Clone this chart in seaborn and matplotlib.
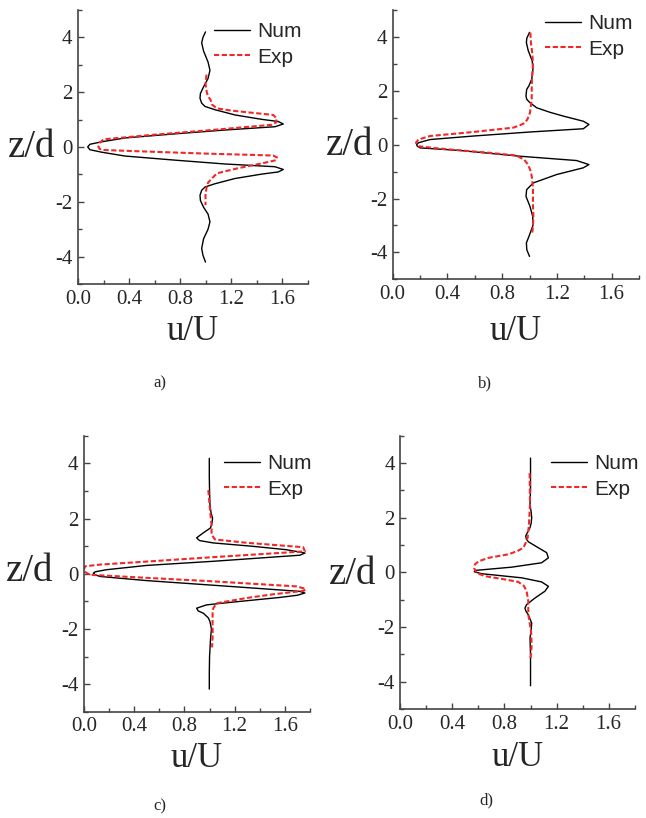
import matplotlib
matplotlib.use('Agg')
import matplotlib.pyplot as plt
import seaborn as sns
from matplotlib.ticker import MultipleLocator

# ---- data: velocity profiles u/U vs z/d ----
a_num_z = [4.2, 4.0, 3.8, 3.5, 3.1, 2.8, 2.5, 2.2, 1.95, 1.78, 1.6, 1.48, 1.36, 1.17, 1.01, 0.93, 0.84, 0.74,
           0.62, 0.48, 0.33, 0.19, 0.10, 0.0, -0.10, -0.19, -0.33, -0.48, -0.62, -0.72, -0.82, -0.91, -0.99,
           -1.15, -1.34, -1.46, -1.58, -1.76, -1.95, -2.2, -2.45, -2.73, -3.0, -3.35, -3.7, -3.95, -4.2]
a_num_u = [1.00, 0.98, 0.97, 0.985, 1.02, 1.035, 1.02, 0.985, 0.96, 0.957, 0.97, 0.996, 1.075, 1.231, 1.44, 1.571,
           1.61, 1.545, 1.153, 0.761, 0.369, 0.186, 0.094, 0.076, 0.094, 0.186, 0.369, 0.761, 1.153, 1.545, 1.61,
           1.571, 1.44, 1.231, 1.075, 0.996, 0.97, 0.957, 0.96, 0.985, 1.02, 1.035, 1.02, 0.985, 0.97, 0.98, 1.00]
a_exp_z = [2.64, 2.3, 2.0, 1.85, 1.72, 1.55, 1.41, 1.33, 1.17, 1.05, 0.9, 0.81, 0.6, 0.45, 0.28, 0.15, 0.0,
           -0.07, -0.11, -0.16, -0.24, -0.31, -0.38, -0.48, -0.6, -0.78, -0.96, -1.15, -1.3, -1.45, -1.7, -2.12]
a_exp_u = [1.008, 1.0, 1.01, 1.02, 1.04, 1.05, 1.09, 1.2, 1.53, 1.558, 1.555, 1.52, 1.0, 0.6, 0.2, 0.17, 0.16,
           0.17, 0.2, 0.5, 1.0, 1.53, 1.56, 1.555, 1.44, 1.25, 1.09, 1.05, 1.02, 1.01, 1.0, 1.0]

b_num_z = [4.17, 3.95, 3.79, 3.5, 3.1, 2.8, 2.43, 2.18, 2.05, 1.8, 1.68, 1.56, 1.37, 1.2, 1.06, 0.87, 0.75, 0.59,
           0.47, 0.32, 0.19, 0.07, 0.0, -0.06, -0.12, -0.22, -0.43, -0.59, -0.74, -0.86, -1.11, -1.42, -1.67,
           -1.92, -2.29, -2.66, -3.0, -3.35, -3.65, -3.9, -4.15]
b_num_u = [1.0, 0.98, 0.977, 0.99, 1.02, 1.025, 1.016, 0.995, 0.979, 0.974, 0.98, 1.003, 1.052, 1.15, 1.247, 1.393,
           1.434, 1.393, 1.003, 0.589, 0.273, 0.188, 0.175, 0.18, 0.2, 0.5, 0.93, 1.344, 1.434, 1.393, 1.198,
           1.028, 0.979, 0.974, 1.003, 1.023, 1.025, 1.0, 0.977, 0.98, 1.0]
b_exp_z = [4.16, 3.8, 3.4, 3.0, 2.6, 2.2, 1.68, 1.18, 0.95, 0.81, 0.72, 0.63, 0.47, 0.32, 0.19, 0.07, -0.06,
           -0.15, -0.3, -0.4, -0.55, -0.75, -1.0, -1.3, -1.67, -2.2, -2.66, -3.0, -3.28]
b_exp_u = [1.006, 1.01, 1.02, 1.025, 1.02, 1.016, 1.016, 1.003, 0.985, 0.967, 0.93, 0.88, 0.589, 0.273, 0.188,
           0.17, 0.19, 0.35, 0.7, 0.9, 0.96, 0.99, 1.01, 1.02, 1.025, 1.025, 1.028, 1.025, 1.02]

c_num_z = [4.18, 3.5, 3.0, 2.51, 2.2, 2.02, 1.85, 1.66, 1.48, 1.3, 1.2, 1.115, 0.99, 0.87, 0.75, 0.67, 0.45, 0.3,
           0.145, 0.07, 0.02, -0.04, -0.10, -0.25, -0.46, -0.64, -0.70, -0.78, -0.86, -1.04, -1.13, -1.25, -1.35,
           -1.43, -1.6, -1.73, -2.0, -2.34, -3.0, -3.6, -4.18]
c_num_u = [0.998, 0.998, 1.0, 1.003, 1.012, 1.024, 1.02, 1.008, 0.95, 0.897, 0.92, 1.03, 1.35, 1.61, 1.76, 1.72,
           1.03, 0.5, 0.18, 0.09, 0.074, 0.09, 0.127, 0.499, 1.162, 1.719, 1.759, 1.7, 1.56, 1.162, 0.976, 0.897,
           0.91, 0.95, 0.99, 1.003, 1.015, 1.008, 1.0, 0.998, 0.998]
c_exp_z = [3.03, 2.5, 2.0, 1.78, 1.42, 1.24, 1.12, 0.96, 0.81, 0.6, 0.44, 0.33, 0.27, 0.17, 0.08, -0.04, -0.15,
           -0.27, -0.46, -0.55, -0.62, -0.75, -0.88, -1.07, -1.25, -1.37, -1.8, -2.2, -2.67]
c_exp_u = [0.99, 1.0, 1.01, 1.016, 1.016, 1.043, 1.295, 1.746, 1.759, 1.03, 0.5, 0.127, 0.01, 0.0, 0.0, 0.05,
           0.5, 1.0, 1.693, 1.767, 1.75, 1.5, 1.295, 1.056, 1.03, 1.024, 1.024, 1.025, 1.02]

d_num_z = [4.18, 3.5, 3.0, 2.49, 2.2, 2.0, 1.8, 1.64, 1.45, 1.33, 1.22, 1.12, 0.9, 0.72, 0.53, 0.35, 0.19, 0.07,
           0.02, -0.05, -0.20, -0.35, -0.51, -0.69, -0.94, -1.18, -1.31, -1.42, -1.55, -1.86, -2.1, -2.41, -3.0,
           -3.6, -4.15]
d_num_u = [1.0, 1.0, 1.0, 0.996, 1.005, 1.009, 1.005, 0.996, 0.975, 0.963, 0.968, 0.983, 1.06, 1.124, 1.137, 1.085,
           0.855, 0.573, 0.568, 0.625, 0.932, 1.085, 1.137, 1.111, 1.034, 0.97, 0.957, 0.965, 0.983, 1.009, 1.005,
           0.996, 1.0, 1.0, 1.0]
d_exp_z = [3.63, 3.0, 2.49, 1.76, 1.27, 1.1, 0.9, 0.78, 0.66, 0.53, 0.4, 0.29, 0.14, -0.02, -0.14, -0.26, -0.35,
           -0.5, -0.69, -1.06, -1.55, -2.16, -2.65, -3.17]
d_exp_u = [0.993, 0.995, 0.996, 0.988, 0.978, 0.965, 0.945, 0.9, 0.83, 0.676, 0.6, 0.573, 0.568, 0.586, 0.65,
           0.804, 0.906, 0.95, 0.97, 0.983, 0.983, 1.004, 1.009, 1.0]

panel_names = ['a)', 'b)', 'c)', 'd)']

sns.set_style('ticks')
plt.rcParams['font.family'] = ['Liberation Serif', 'DejaVu Serif']

W, H = 646, 818
fig = plt.figure(figsize=(W / 100, H / 100), dpi=100)

# axes boxes in pixels: left, top, right, bottom
boxes = [(78, 10, 307.5, 284), (392.7, 10, 639, 279.3), (84, 435.7, 310, 711.7), (400.3, 435.7, 634.7, 709)]
leg_pos = [(204, 12), (535, 4), (214, 444), (541, 444)]
zd_pos = [(-0.100, 0.465), (-0.080, 0.462), (-0.136, 0.475), (-0.102, 0.457)]
uU_off = [56, 61, 55, 57]
letter_pos = [(160, 383), (485, 383), (160, 806), (486, 800)]

data = [(a_num_u, a_num_z, a_exp_u, a_exp_z), (b_num_u, b_num_z, b_exp_u, b_exp_z),
        (c_num_u, c_num_z, c_exp_u, c_exp_z), (d_num_u, d_num_z, d_exp_u, d_exp_z)]

for i, (nu, nz, eu, ez) in enumerate(data):
    l, t, r, b = boxes[i]
    ax = fig.add_axes([l / W, 1 - b / H, (r - l) / W, (b - t) / H])
    sns.lineplot(x=nu, y=nz, sort=False, estimator=None, color='black', lw=1.0, ax=ax, label='Num')
    sns.lineplot(x=eu, y=ez, sort=False, estimator=None, color='#f02828', lw=1.5,
                 linestyle=(0, (2.5, 1.2)), ax=ax, label='Exp')
    ax.set_xlim(0, 1.8)
    ax.set_ylim(-5, 5)
    ax.xaxis.set_minor_locator(MultipleLocator(0.2))
    ax.yaxis.set_minor_locator(MultipleLocator(1))
    ax.set_xticks([0.0, 0.4, 0.8, 1.2, 1.6])
    ax.set_xticklabels(['0.0', '0.4', '0.8', '1.2', '1.6'])
    ax.set_yticks([-4, -2, 0, 2, 4])
    ax.set_yticklabels(['-4', '-2', '0', '2', '4'])
    for s in ['top', 'right']:
        ax.spines[s].set_visible(False)
    for s in ['left', 'bottom']:
        ax.spines[s].set_color('#444444')
        ax.spines[s].set_linewidth(1.2)
    ax.tick_params(which='major', direction='in', length=4, width=1, color='#444444',
                   labelsize=15, pad=4)
    ax.tick_params(which='minor', direction='in', length=3, width=1, color='#444444')

    ax.set_xlabel('u/U', fontsize=25, va='baseline')
    ax.xaxis.set_label_coords(0.5, -uU_off[i] / (b - t))
    ax.set_ylabel('z/d', fontsize=28, rotation=0, ha='right', va='baseline')
    ax.yaxis.set_label_coords(*zd_pos[i])

    lx, ly = leg_pos[i]
    ax.legend(loc='upper left', bbox_to_anchor=(lx / W, 1 - ly / H), bbox_transform=fig.transFigure,
              frameon=False, borderpad=0, handlelength=1.7, handletextpad=0.35, labelspacing=0.3,
              prop={'family': 'Liberation Sans', 'size': 15})

    px, py = letter_pos[i]
    fig.text(px / W, 1 - py / H, panel_names[i], ha='center', va='center', fontsize=12)

plt.savefig('out.png', dpi=100)
